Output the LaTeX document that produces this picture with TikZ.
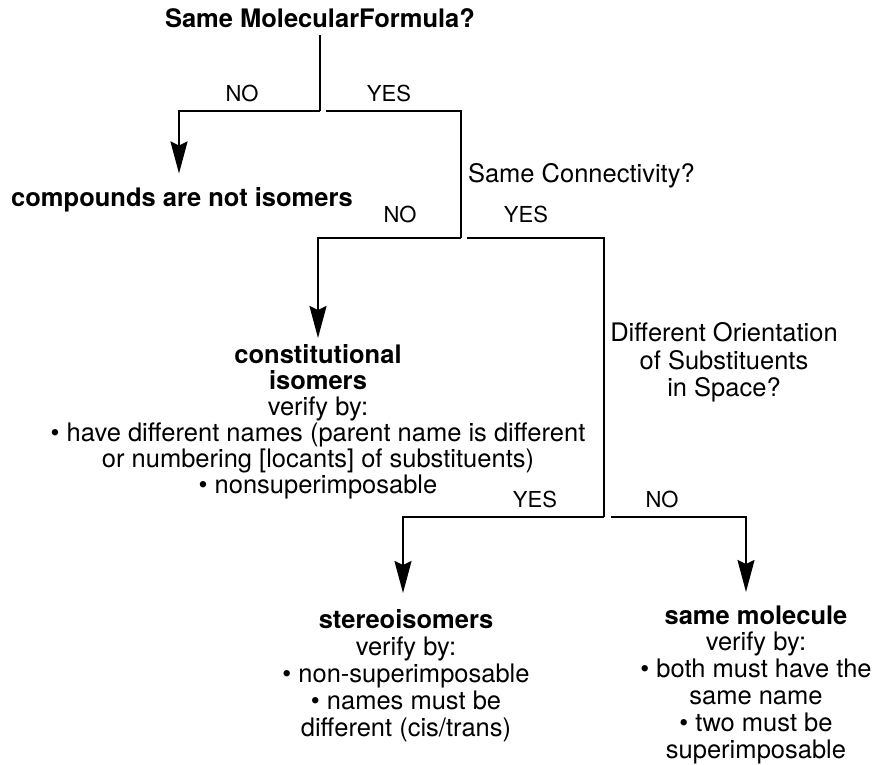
\documentclass[tikz,border=0pt]{standalone}
\usepackage{fontspec}
\setmainfont{TeX Gyre Heros}
\usetikzlibrary{arrows.meta}

\begin{document}
\begin{tikzpicture}[x=1pt,y=-1pt,line width=2pt,
  every node/.style={inner sep=0pt,font=\fontsize{25.5}{26.8}\selectfont},
  answer/.style={anchor=base,font=\fontsize{22}{24}\selectfont},
  result/.style={align=center,anchor=north},
  tip/.style={-{Stealth[length=32pt,width=17pt,inset=4pt]}}]
  \useasboundingbox (0,0) rectangle (880,764);
  \node[anchor=base,font=\bfseries\fontsize{25.5}{26.8}\selectfont] (formula) at (320,27) {Same MolecularFormula?};
  \node[anchor=base,font=\bfseries\fontsize{25.5}{26.8}\selectfont] (notiso) at (182,206) {compounds are not isomers};
  \node[anchor=base west] (connect) at (467,182) {Same Connectivity?};
  \node[result,font=\fontsize{25.5}{26}\selectfont] (const) at (318,343.5)
    {\textbf{constitutional}\\\textbf{isomers}\\verify by:\\• have different names (parent name is different\\or numbering [locants] of substituents)\\• nonsuperimposable};
  \node[result,font=\fontsize{25.5}{27.5}\selectfont] (orient) at (724,321.5)
    {Different Orientation\\of Substituents\\in Space?};
  \node[result,font=\fontsize{25.5}{27}\selectfont] (stereo) at (406,608.5)
    {\textbf{stereoisomers}\\verify by:\\• non-superimposable\\• names must be\\different (cis/trans)};
  \node[result] (same) at (756,604.5)
    {\textbf{same molecule}\\verify by:\\• both must have the\\same name\\• two must be\\superimposable};

  \node[answer] (no1) at (242,101) {NO};
  \node[answer] (yes1) at (389,101) {YES};
  \node[answer] (no2) at (400,222) {NO};
  \node[answer] (yes2) at (526,222) {YES};
  \node[answer] (yes3) at (535,507) {YES};
  \node[answer] (no3) at (662,507) {NO};

  \coordinate (j1) at (320,111);
  \coordinate (j1r) at (326,111);
  \coordinate (j2) at (461,238);
  \coordinate (j2r) at (467,238);
  \coordinate (j3) at (604,517);
  \coordinate (j3r) at (611,517);

  \draw[shorten <=7pt] (formula.south) -- (j1);
  \draw[tip] (j1) -| ([xshift=-3pt,yshift=12.5pt]notiso.north);
  \draw (j1r) -| (j2);
  \draw[tip] (j2) -| ([yshift=5.5pt]const.north);
  \draw (j2r) -| (j3);
  \draw[tip] (j3) -| ([xshift=-3pt,yshift=15.5pt]stereo.north);
  \draw[tip] (j3r) -| ([xshift=-10pt,yshift=12.5pt]same.north);
\end{tikzpicture}
\end{document}
